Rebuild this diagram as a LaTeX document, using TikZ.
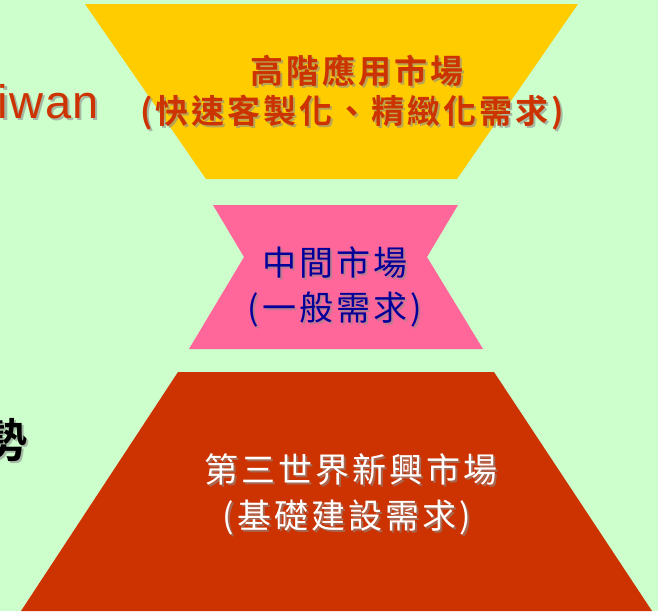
\documentclass[tikz,border=0pt]{standalone}
\usepackage{fontspec}
\setmainfont{Liberation Sans}
\newfontfamily\cjk[LetterSpace=9]{Noto Sans CJK TC}
\newfontfamily\cjkbold[LetterSpace=9]{Noto Sans CJK TC Bold}
\newfontfamily\cjkplain{Noto Sans CJK TC Bold}
\newfontfamily\latinsp[LetterSpace=3]{Liberation Sans}
\definecolor{bgc}{HTML}{CCFFCC}
\definecolor{topc}{HTML}{FFCC00}
\definecolor{pinkc}{HTML}{FF6699}
\definecolor{botc}{HTML}{CC3300}
\definecolor{redtxt}{HTML}{CC3300}
\definecolor{bluetxt}{HTML}{000099}
\definecolor{shadowc}{HTML}{8C8C8C}
\tikzset{
  txt/.style={inner sep=0pt, outer sep=0pt},
  shd/.style={txt, text=shadowc, opacity=0.6},
  big/.style={font=\cjk\fontsize{34}{34}\selectfont},
  bigb/.style={font=\cjkbold\fontsize{33}{33}\selectfont},
  latin/.style={font=\latinsp\fontsize{47}{47}\selectfont},
}
\begin{document}
\begin{tikzpicture}[x=1pt,y=-1pt]
\useasboundingbox (0,0) rectangle (658,611);
\clip (0,0) rectangle (658,611);
\fill[bgc] (0,0) rectangle (658,611);
% shapes
\fill[topc] (85,4) -- (578,4) -- (457,179) -- (206,179) -- cycle;
\fill[pinkc] (213,205) -- (458,205) -- (427,257) -- (483,349) -- (189,349) -- (244,257) -- cycle;
\fill[botc] (178,372) -- (494,372) -- (652,611) -- (21,611) -- cycle;
% left partial texts (cut by the picture's edge)
\node[shd, latin, anchor=base west] (twS) at (0,120) {iwan};
\node[txt, latin, anchor=base west, text=redtxt] (tw) at (-2,118) {iwan};
\node[txt, latin, anchor=base east, text=redtxt] (ta) at (tw.base west) {Ta};
\node[shd, anchor=east, font=\cjkplain\fontsize{46}{46}\selectfont] (shiS) at (30,442) {優勢};
\node[txt, anchor=east, text=black, font=\cjkplain\fontsize{46}{46}\selectfont] (shi) at (28,440) {優勢};
% top text
\node[shd, bigb] (t1S) at (359,73) {高階應用市場};
\node[txt, bigb, text=redtxt] (t1) at (357,71) {高階應用市場};
\node[shd, bigb] (t2S) at (354,115) {(快速客製化、精緻化需求)};
\node[txt, bigb, text=redtxt] (t2) at (352,113) {(快速客製化、精緻化需求)};
% middle text
\node[shd, big] (m1S) at (337,265) {中間市場};
\node[txt, big, text=bluetxt] (m1) at (335,263) {中間市場};
\node[shd, big] (m2S) at (337,311) {(一般需求)};
\node[txt, big, text=bluetxt] (m2) at (335,309) {(一般需求)};
% bottom text
\node[shd, big] (b1S) at (353,472) {第三世界新興市場};
\node[txt, big, text=white] (b1) at (351,470) {第三世界新興市場};
\node[shd, big] (b2S) at (349,519) {(基礎建設需求)};
\node[txt, big, text=white] (b2) at (347,517) {(基礎建設需求)};
\end{tikzpicture}
\end{document}
